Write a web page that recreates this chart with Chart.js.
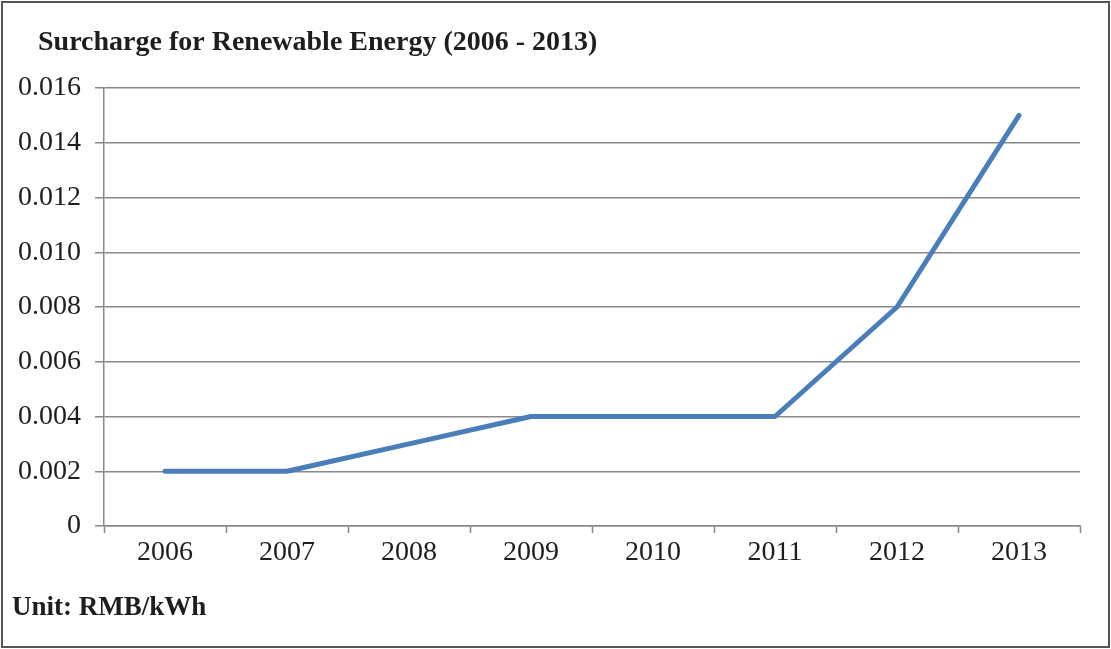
<!DOCTYPE html>
<html>
<head>
<meta charset="utf-8">
<script src="https://cdn.jsdelivr.net/npm/chart.js@4/dist/chart.umd.min.js"></script>
<style>
  html, body { margin: 0; padding: 0; background: #ffffff; }
  #wrap { position: relative; width: 1111px; height: 649px; }
</style>
</head>
<body>
<div id="wrap"><canvas id="c" width="1111" height="649"></canvas></div>
<script>
const titleText = 'Surcharge for Renewable Energy (2006 - 2013)';
const unitText = 'Unit: RMB/kWh';
const years = ['2006', '2007', '2008', '2009', '2010', '2011', '2012', '2013'];
const surcharge = [0.002, 0.002, 0.003, 0.004, 0.004, 0.004, 0.008, 0.015];
const yMin = 0;
const yMax = 0.016;
const yStep = 0.002;

const gridColor = '#888888';
const textColor = '#1e1e1e';
const serif = "'Liberation Serif', 'Times New Roman', serif";

const framePlugin = {
  id: 'frame',
  afterLayout(chart) {
    if (chart.titleBlock) { chart.titleBlock.left = 38; }
  },
  beforeDraw(chart) {
    const ctx = chart.ctx;
    ctx.save();
    ctx.fillStyle = '#ffffff';
    ctx.fillRect(0, 0, chart.width, chart.height);
    ctx.restore();
  },
  afterDraw(chart) {
    const ctx = chart.ctx;
    ctx.save();
    ctx.strokeStyle = '#555555';
    ctx.lineWidth = 2;
    ctx.strokeRect(2, 2, chart.width - 4, chart.height - 4);
    ctx.restore();
  }
};

new Chart(document.getElementById('c'), {
  type: 'line',
  data: {
    labels: years,
    datasets: [{
      data: surcharge,
      borderColor: '#4a7ebb',
      backgroundColor: '#4a7ebb',
      borderWidth: 5,
      borderCapStyle: 'round',
      borderJoinStyle: 'round',
      pointRadius: 0,
      pointHoverRadius: 0,
      tension: 0,
      fill: false
    }]
  },
  options: {
    responsive: false,
    animation: false,
    events: [],
    layout: { padding: { left: 12, right: 31, top: 0, bottom: 0 } },
    plugins: {
      legend: { display: false },
      tooltip: { enabled: false },
      title: {
        display: true,
        text: titleText,
        align: 'start',
        color: textColor,
        font: { family: serif, size: 28, weight: 'bold', lineHeight: 1.2 },
        padding: { top: 26.2, bottom: 28.2 }
      },
      subtitle: {
        display: true,
        text: unitText,
        position: 'bottom',
        align: 'start',
        color: textColor,
        font: { family: serif, size: 27, weight: 'bold', lineHeight: 1.2 },
        padding: { top: 24.8, bottom: 24.8 }
      }
    },
    scales: {
      x: {
        type: 'category',
        offset: true,
        afterFit(scale) { scale.height = 41; },
        grid: {
          display: true,
          offset: true,
          drawOnChartArea: false,
          drawTicks: true,
          tickLength: 7,
          tickColor: gridColor,
          tickWidth: 1.5,
          color: gridColor
        },
        border: { display: true, color: gridColor, width: 1.5 },
        ticks: {
          color: textColor,
          font: { family: serif, size: 28 },
          padding: 3,
          maxRotation: 0,
          autoSkip: false
        }
      },
      y: {
        min: yMin,
        max: yMax,
        afterFit(scale) { scale.width = 92; },
        grid: {
          color: gridColor,
          lineWidth: 1.5,
          drawTicks: true,
          tickLength: 9,
          tickColor: gridColor
        },
        border: { display: true, color: gridColor, width: 1.5 },
        ticks: {
          stepSize: yStep,
          color: textColor,
          font: { family: serif, size: 28 },
          padding: 14,
          callback: (v) => (Math.abs(v) < 1e-12 ? '0' : Number(v).toFixed(3))
        }
      }
    }
  },
  plugins: [framePlugin]
});
</script>
</body>
</html>
